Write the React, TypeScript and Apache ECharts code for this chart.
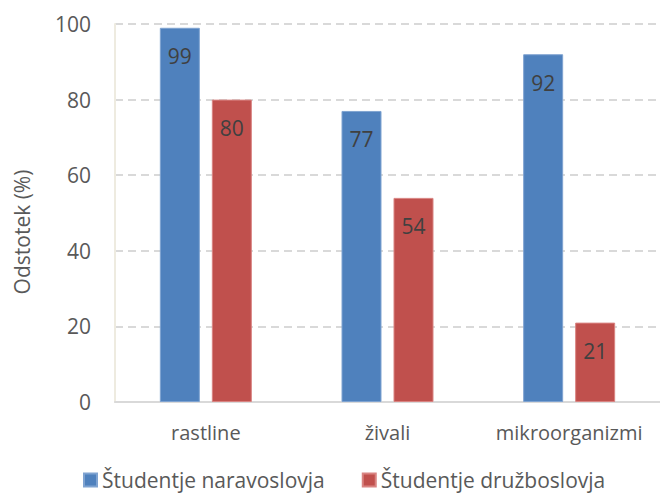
import React, { useEffect, useRef } from "react";
import * as echarts from "echarts";

const categories = ["rastline", "živali", "mikroorganizmi"];
const naravoslovje = [99, 77, 92];
const druzboslovje = [80, 54, 21];
const seriesNames = ["Študentje naravoslovja", "Študentje družboslovja"];
const yTicks = { min: 0, max: 100, interval: 20 };
const yAxisTitle = "Odstotek (%)";

const FONT = "'Open Sans', 'Noto Sans', sans-serif";
const TEXT = "#595959";

export default function App() {
  const ref = useRef<HTMLDivElement>(null);

  useEffect(() => {
    if (!ref.current) return;
    const chart = echarts.init(ref.current, undefined, { renderer: "svg" });
    const label = {
      show: true,
      position: "insideTop",
      distance: 18,
      color: "#404040",
      fontSize: 21,
      fontFamily: FONT,
    };
    chart.setOption({
      animation: false,
      backgroundColor: "#ffffff",
      textStyle: { fontFamily: FONT },
      grid: { left: 115, right: -4, top: 24, bottom: 95, containLabel: false },
      graphic: [
        {
          type: "text",
          x: 22,
          y: 232,
          rotation: Math.PI / 2,
          style: {
            text: yAxisTitle,
            fill: TEXT,
            fontSize: 21,
            fontFamily: FONT,
            textAlign: "center",
            textVerticalAlign: "middle",
          },
        },
      ],
      legend: {
        bottom: 0,
        left: 78,
        itemWidth: 13,
        itemHeight: 13,
        itemGap: 37,
        icon: "rect",
        textStyle: { color: TEXT, fontSize: 21, fontFamily: FONT, lineHeight: 24 },
        data: seriesNames,
      },
      xAxis: {
        type: "category",
        data: categories,
        axisTick: { show: false },
        axisLine: { lineStyle: { color: "#D9D9D9", width: 2 } },
        axisLabel: { color: TEXT, fontSize: 20, fontFamily: FONT, margin: 20, interval: 0 },
      },
      yAxis: {
        type: "value",
        min: yTicks.min,
        max: yTicks.max,
        interval: yTicks.interval,
        axisLine: { show: true, lineStyle: { color: "#EEEBE0", width: 2 } },
        axisTick: { show: false },
        axisLabel: { color: TEXT, fontSize: 21, fontFamily: FONT, margin: 24 },
        splitLine: { lineStyle: { color: "#D9D9D9", type: [8, 5], width: 2 } },
      },
      series: [
        {
          name: seriesNames[0],
          type: "bar",
          data: naravoslovje,
          barWidth: 40,
          barGap: "30%",
          itemStyle: { color: "#4F81BD", borderColor: "#7FA3D1", borderWidth: 1 },
          label,
        },
        {
          name: seriesNames[1],
          type: "bar",
          data: druzboslovje,
          barWidth: 40,
          itemStyle: { color: "#C0504D", borderColor: "#D98482", borderWidth: 1 },
          label,
        },
      ],
    });
    return () => chart.dispose();
  }, []);

  return <div ref={ref} style={{ width: 660, height: 497, position: "absolute", left: 0, top: 0 }} />;
}
